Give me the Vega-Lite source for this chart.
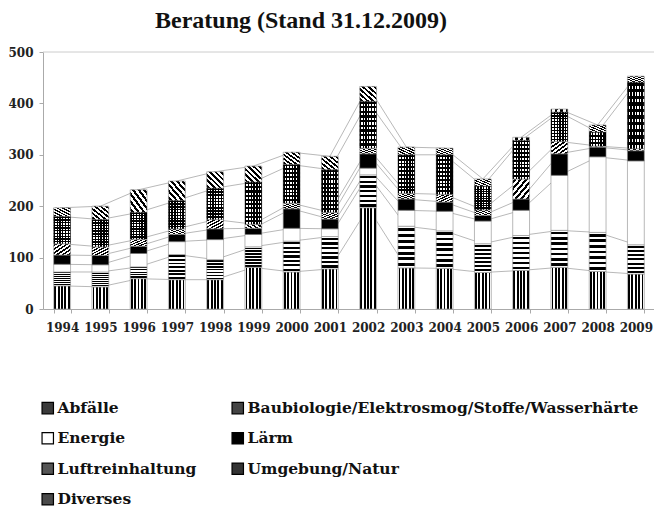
{
  "$schema": "https://vega.github.io/schema/vega-lite/v6.json",
  "autosize": {"type": "none"},
  "padding": {"left": 43, "top": 52, "right": 0, "bottom": 203},
  "width": 612,
  "height": 257,
  "background": "white",
  "title": {
    "text": "Beratung (Stand 31.12.2009)",
    "font": "Liberation Serif",
    "fontSize": 24,
    "fontWeight": "bold",
    "color": "#111",
    "anchor": "middle",
    "dx": -48,
    "offset": 13
  },
  "config": {
    "view": {"stroke": null},
    "axis": {"labelFont": "DejaVu Serif", "labelFontWeight": "bold", "labelFontSize": 12, "labelColor": "#222", "domainColor": "#aaa", "tickColor": "#aaa", "grid": false, "title": null}
  },
  "data": {
    "values": [
      {"year": "1994", "cat": "Abfälle", "value": 45},
      {"year": "1994", "cat": "Baubiologie/Elektrosmog/Stoffe/Wasserhärte", "value": 27},
      {"year": "1994", "cat": "Energie", "value": 15},
      {"year": "1994", "cat": "Lärm", "value": 18},
      {"year": "1994", "cat": "Luftreinhaltung", "value": 22},
      {"year": "1994", "cat": "Umgebung/Natur", "value": 53},
      {"year": "1994", "cat": "Diverses", "value": 17},
      {"year": "1995", "cat": "Abfälle", "value": 43},
      {"year": "1995", "cat": "Baubiologie/Elektrosmog/Stoffe/Wasserhärte", "value": 29},
      {"year": "1995", "cat": "Energie", "value": 14},
      {"year": "1995", "cat": "Lärm", "value": 18},
      {"year": "1995", "cat": "Luftreinhaltung", "value": 17},
      {"year": "1995", "cat": "Umgebung/Natur", "value": 53},
      {"year": "1995", "cat": "Diverses", "value": 26},
      {"year": "1996", "cat": "Abfälle", "value": 59},
      {"year": "1996", "cat": "Baubiologie/Elektrosmog/Stoffe/Wasserhärte", "value": 23},
      {"year": "1996", "cat": "Energie", "value": 26},
      {"year": "1996", "cat": "Lärm", "value": 14},
      {"year": "1996", "cat": "Luftreinhaltung", "value": 14},
      {"year": "1996", "cat": "Umgebung/Natur", "value": 52},
      {"year": "1996", "cat": "Diverses", "value": 44},
      {"year": "1997", "cat": "Abfälle", "value": 57},
      {"year": "1997", "cat": "Baubiologie/Elektrosmog/Stoffe/Wasserhärte", "value": 49},
      {"year": "1997", "cat": "Energie", "value": 25},
      {"year": "1997", "cat": "Lärm", "value": 14},
      {"year": "1997", "cat": "Luftreinhaltung", "value": 11},
      {"year": "1997", "cat": "Umgebung/Natur", "value": 55},
      {"year": "1997", "cat": "Diverses", "value": 38},
      {"year": "1998", "cat": "Abfälle", "value": 57},
      {"year": "1998", "cat": "Baubiologie/Elektrosmog/Stoffe/Wasserhärte", "value": 39},
      {"year": "1998", "cat": "Energie", "value": 39},
      {"year": "1998", "cat": "Lärm", "value": 21},
      {"year": "1998", "cat": "Luftreinhaltung", "value": 18},
      {"year": "1998", "cat": "Umgebung/Natur", "value": 61},
      {"year": "1998", "cat": "Diverses", "value": 32},
      {"year": "1999", "cat": "Abfälle", "value": 81},
      {"year": "1999", "cat": "Baubiologie/Elektrosmog/Stoffe/Wasserhärte", "value": 40},
      {"year": "1999", "cat": "Energie", "value": 24},
      {"year": "1999", "cat": "Lärm", "value": 12},
      {"year": "1999", "cat": "Luftreinhaltung", "value": 8},
      {"year": "1999", "cat": "Umgebung/Natur", "value": 82},
      {"year": "1999", "cat": "Diverses", "value": 31},
      {"year": "2000", "cat": "Abfälle", "value": 72},
      {"year": "2000", "cat": "Baubiologie/Elektrosmog/Stoffe/Wasserhärte", "value": 60},
      {"year": "2000", "cat": "Energie", "value": 25},
      {"year": "2000", "cat": "Lärm", "value": 38},
      {"year": "2000", "cat": "Luftreinhaltung", "value": 11},
      {"year": "2000", "cat": "Umgebung/Natur", "value": 75},
      {"year": "2000", "cat": "Diverses", "value": 24},
      {"year": "2001", "cat": "Abfälle", "value": 78},
      {"year": "2001", "cat": "Baubiologie/Elektrosmog/Stoffe/Wasserhärte", "value": 63},
      {"year": "2001", "cat": "Energie", "value": 15},
      {"year": "2001", "cat": "Lärm", "value": 19},
      {"year": "2001", "cat": "Luftreinhaltung", "value": 13},
      {"year": "2001", "cat": "Umgebung/Natur", "value": 83},
      {"year": "2001", "cat": "Diverses", "value": 26},
      {"year": "2002", "cat": "Abfälle", "value": 197},
      {"year": "2002", "cat": "Baubiologie/Elektrosmog/Stoffe/Wasserhärte", "value": 64},
      {"year": "2002", "cat": "Energie", "value": 13},
      {"year": "2002", "cat": "Lärm", "value": 28},
      {"year": "2002", "cat": "Luftreinhaltung", "value": 11},
      {"year": "2002", "cat": "Umgebung/Natur", "value": 91},
      {"year": "2002", "cat": "Diverses", "value": 29},
      {"year": "2003", "cat": "Abfälle", "value": 80},
      {"year": "2003", "cat": "Baubiologie/Elektrosmog/Stoffe/Wasserhärte", "value": 81},
      {"year": "2003", "cat": "Energie", "value": 31},
      {"year": "2003", "cat": "Lärm", "value": 22},
      {"year": "2003", "cat": "Luftreinhaltung", "value": 11},
      {"year": "2003", "cat": "Umgebung/Natur", "value": 75},
      {"year": "2003", "cat": "Diverses", "value": 15},
      {"year": "2004", "cat": "Abfälle", "value": 79},
      {"year": "2004", "cat": "Baubiologie/Elektrosmog/Stoffe/Wasserhärte", "value": 73},
      {"year": "2004", "cat": "Energie", "value": 38},
      {"year": "2004", "cat": "Lärm", "value": 18},
      {"year": "2004", "cat": "Luftreinhaltung", "value": 15},
      {"year": "2004", "cat": "Umgebung/Natur", "value": 77},
      {"year": "2004", "cat": "Diverses", "value": 13},
      {"year": "2005", "cat": "Abfälle", "value": 71},
      {"year": "2005", "cat": "Baubiologie/Elektrosmog/Stoffe/Wasserhärte", "value": 56},
      {"year": "2005", "cat": "Energie", "value": 44},
      {"year": "2005", "cat": "Lärm", "value": 11},
      {"year": "2005", "cat": "Luftreinhaltung", "value": 11},
      {"year": "2005", "cat": "Umgebung/Natur", "value": 46},
      {"year": "2005", "cat": "Diverses", "value": 14},
      {"year": "2006", "cat": "Abfälle", "value": 75},
      {"year": "2006", "cat": "Baubiologie/Elektrosmog/Stoffe/Wasserhärte", "value": 68},
      {"year": "2006", "cat": "Energie", "value": 49},
      {"year": "2006", "cat": "Lärm", "value": 22},
      {"year": "2006", "cat": "Luftreinhaltung", "value": 39},
      {"year": "2006", "cat": "Umgebung/Natur", "value": 75},
      {"year": "2006", "cat": "Diverses", "value": 6},
      {"year": "2007", "cat": "Abfälle", "value": 81},
      {"year": "2007", "cat": "Baubiologie/Elektrosmog/Stoffe/Wasserhärte", "value": 72},
      {"year": "2007", "cat": "Energie", "value": 107},
      {"year": "2007", "cat": "Lärm", "value": 42},
      {"year": "2007", "cat": "Luftreinhaltung", "value": 24},
      {"year": "2007", "cat": "Umgebung/Natur", "value": 57},
      {"year": "2007", "cat": "Diverses", "value": 6},
      {"year": "2008", "cat": "Abfälle", "value": 73},
      {"year": "2008", "cat": "Baubiologie/Elektrosmog/Stoffe/Wasserhärte", "value": 76},
      {"year": "2008", "cat": "Energie", "value": 147},
      {"year": "2008", "cat": "Lärm", "value": 19},
      {"year": "2008", "cat": "Luftreinhaltung", "value": 2},
      {"year": "2008", "cat": "Umgebung/Natur", "value": 27},
      {"year": "2008", "cat": "Diverses", "value": 14},
      {"year": "2009", "cat": "Abfälle", "value": 68},
      {"year": "2009", "cat": "Baubiologie/Elektrosmog/Stoffe/Wasserhärte", "value": 57},
      {"year": "2009", "cat": "Energie", "value": 163},
      {"year": "2009", "cat": "Lärm", "value": 20},
      {"year": "2009", "cat": "Luftreinhaltung", "value": 4},
      {"year": "2009", "cat": "Umgebung/Natur", "value": 129},
      {"year": "2009", "cat": "Diverses", "value": 12}
    ]
  },
  "transform": [
    {"calculate": "indexof(['Abfälle','Baubiologie/Elektrosmog/Stoffe/Wasserhärte','Energie','Lärm','Luftreinhaltung','Umgebung/Natur','Diverses'], datum.cat)", "as": "ord"},
    {"stack": "value", "groupby": ["year"], "sort": [{"field": "ord", "order": "ascending"}], "as": ["v0", "v1"]}
  ],
  "layer": [
    {
      "mark": {"type": "line", "stroke": "#b0b0b0", "strokeWidth": 0.9},
      "encoding": {
        "x": {
          "field": "year", "type": "ordinal",
          "scale": {"paddingInner": 0.56, "paddingOuter": 0.28},
          "axis": {"labelAngle": 0, "tickBand": "extent", "tickSize": 4, "labelPadding": 9}
        },
        "y": {"field": "v1", "type": "quantitative", "scale": {"domain": [0, 500], "nice": false},
          "axis": {"values": [0, 50, 100, 150, 200, 250, 300, 350, 400, 450, 500], "tickSize": 4, "labelPadding": 6}},
        "detail": {"field": "cat"}
      }
    },
    {
      "transform": [{"filter": "datum.ord === 0 && datum.year === '1994'"}],
      "mark": {"type": "rule", "stroke": "#cccccc", "strokeWidth": 1},
      "encoding": {"y": {"datum": 500}}
    },
    {
      "mark": {"type": "bar", "stroke": "#8a8a8a", "strokeWidth": 0.6},
      "encoding": {
        "x": {"field": "year", "type": "ordinal"},
        "y": {"field": "v1", "type": "quantitative"},
        "y2": {"field": "v0"},
        "fill": {
          "field": "cat", "type": "nominal",
          "sort": ["Abfälle", "Baubiologie/Elektrosmog/Stoffe/Wasserhärte", "Energie", "Lärm", "Luftreinhaltung", "Umgebung/Natur", "Diverses"],
          "scale": {
            "domain": ["Abfälle", "Baubiologie/Elektrosmog/Stoffe/Wasserhärte", "Energie", "Lärm", "Luftreinhaltung", "Umgebung/Natur", "Diverses"],
            "range": ["#3a3a3a", "#444444", "#ffffff", "#000000", "#555555", "#333333", "#4a4a4a"]
          },
          "legend": {
            "title": null, "orient": "none", "legendX": -3, "legendY": 348,
            "direction": "horizontal",
            "columns": 2, "columnPadding": 32, "rowPadding": 12.5,
            "symbolType": "square", "symbolSize": 130, "symbolStrokeColor": "#000", "symbolStrokeWidth": 1.2,
            "labelFont": "DejaVu Serif", "labelFontWeight": "bold", "labelFontSize": 15.5, "labelColor": "#111",
            "labelOffset": 2, "labelLimit": 500
          },
          "condition": [
            {"test": "datum.cat === 'Abfälle'", "value": {"gradient": "linear", "x1": 0, "y1": 0, "x2": 1, "y2": 0, "stops": [
              {"offset": 0, "color": "white"}, {"offset": 0.04, "color": "white"}, {"offset": 0.04, "color": "black"}, {"offset": 0.15, "color": "black"}, {"offset": 0.15, "color": "white"},
              {"offset": 0.24, "color": "white"}, {"offset": 0.24, "color": "black"}, {"offset": 0.35, "color": "black"}, {"offset": 0.35, "color": "white"},
              {"offset": 0.44, "color": "white"}, {"offset": 0.44, "color": "black"}, {"offset": 0.55, "color": "black"}, {"offset": 0.55, "color": "white"},
              {"offset": 0.64, "color": "white"}, {"offset": 0.64, "color": "black"}, {"offset": 0.75, "color": "black"}, {"offset": 0.75, "color": "white"},
              {"offset": 0.84, "color": "white"}, {"offset": 0.84, "color": "black"}, {"offset": 0.95, "color": "black"}, {"offset": 0.95, "color": "white"}, {"offset": 1, "color": "white"}
            ]}},
            {"test": "datum.cat === 'Baubiologie/Elektrosmog/Stoffe/Wasserhärte'", "value": {"gradient": "linear", "x1": 0, "y1": 0, "x2": 0, "y2": 1, "stops": [
              {"offset": 0, "color": "white"}, {"offset": 0.036, "color": "white"}, {"offset": 0.036, "color": "black"}, {"offset": 0.107, "color": "black"}, {"offset": 0.107, "color": "white"},
              {"offset": 0.179, "color": "white"}, {"offset": 0.179, "color": "black"}, {"offset": 0.25, "color": "black"}, {"offset": 0.25, "color": "white"},
              {"offset": 0.321, "color": "white"}, {"offset": 0.321, "color": "black"}, {"offset": 0.393, "color": "black"}, {"offset": 0.393, "color": "white"},
              {"offset": 0.464, "color": "white"}, {"offset": 0.464, "color": "black"}, {"offset": 0.536, "color": "black"}, {"offset": 0.536, "color": "white"},
              {"offset": 0.607, "color": "white"}, {"offset": 0.607, "color": "black"}, {"offset": 0.679, "color": "black"}, {"offset": 0.679, "color": "white"},
              {"offset": 0.75, "color": "white"}, {"offset": 0.75, "color": "black"}, {"offset": 0.821, "color": "black"}, {"offset": 0.821, "color": "white"},
              {"offset": 0.893, "color": "white"}, {"offset": 0.893, "color": "black"}, {"offset": 0.964, "color": "black"}, {"offset": 0.964, "color": "white"}, {"offset": 1, "color": "white"}
            ]}},
            {"test": "datum.cat === 'Luftreinhaltung'", "value": {"gradient": "linear", "x1": 0, "y1": 0, "x2": 1, "y2": 1, "stops": [
              {"offset": 0, "color": "white"}, {"offset": 0.043, "color": "white"}, {"offset": 0.043, "color": "black"}, {"offset": 0.123, "color": "black"}, {"offset": 0.123, "color": "white"},
              {"offset": 0.21, "color": "white"}, {"offset": 0.21, "color": "black"}, {"offset": 0.29, "color": "black"}, {"offset": 0.29, "color": "white"},
              {"offset": 0.377, "color": "white"}, {"offset": 0.377, "color": "black"}, {"offset": 0.457, "color": "black"}, {"offset": 0.457, "color": "white"},
              {"offset": 0.543, "color": "white"}, {"offset": 0.543, "color": "black"}, {"offset": 0.623, "color": "black"}, {"offset": 0.623, "color": "white"},
              {"offset": 0.71, "color": "white"}, {"offset": 0.71, "color": "black"}, {"offset": 0.79, "color": "black"}, {"offset": 0.79, "color": "white"},
              {"offset": 0.877, "color": "white"}, {"offset": 0.877, "color": "black"}, {"offset": 0.957, "color": "black"}, {"offset": 0.957, "color": "white"}, {"offset": 1, "color": "white"}
            ]}},
            {"test": "datum.cat === 'Diverses'", "value": {"gradient": "linear", "x1": 1, "y1": 0, "x2": 0, "y2": 1, "stops": [
              {"offset": 0, "color": "white"}, {"offset": 0.043, "color": "white"}, {"offset": 0.043, "color": "black"}, {"offset": 0.123, "color": "black"}, {"offset": 0.123, "color": "white"},
              {"offset": 0.21, "color": "white"}, {"offset": 0.21, "color": "black"}, {"offset": 0.29, "color": "black"}, {"offset": 0.29, "color": "white"},
              {"offset": 0.377, "color": "white"}, {"offset": 0.377, "color": "black"}, {"offset": 0.457, "color": "black"}, {"offset": 0.457, "color": "white"},
              {"offset": 0.543, "color": "white"}, {"offset": 0.543, "color": "black"}, {"offset": 0.623, "color": "black"}, {"offset": 0.623, "color": "white"},
              {"offset": 0.71, "color": "white"}, {"offset": 0.71, "color": "black"}, {"offset": 0.79, "color": "black"}, {"offset": 0.79, "color": "white"},
              {"offset": 0.877, "color": "white"}, {"offset": 0.877, "color": "black"}, {"offset": 0.957, "color": "black"}, {"offset": 0.957, "color": "white"}, {"offset": 1, "color": "white"}
            ]}},
            {"test": "datum.cat === 'Umgebung/Natur'", "value": {"gradient": "linear", "x1": 0, "y1": 0, "x2": 0, "y2": 1, "stops": [
              {"offset": 0, "color": "black"}, {"offset": 0.05, "color": "black"}, {"offset": 0.05, "color": "white"},
              {"offset": 0.1, "color": "white"}, {"offset": 0.1, "color": "black"}, {"offset": 0.15, "color": "black"}, {"offset": 0.15, "color": "white"},
              {"offset": 0.2, "color": "white"}, {"offset": 0.2, "color": "black"}, {"offset": 0.25, "color": "black"}, {"offset": 0.25, "color": "white"},
              {"offset": 0.3, "color": "white"}, {"offset": 0.3, "color": "black"}, {"offset": 0.35, "color": "black"}, {"offset": 0.35, "color": "white"},
              {"offset": 0.4, "color": "white"}, {"offset": 0.4, "color": "black"}, {"offset": 0.45, "color": "black"}, {"offset": 0.45, "color": "white"},
              {"offset": 0.5, "color": "white"}, {"offset": 0.5, "color": "black"}, {"offset": 0.55, "color": "black"}, {"offset": 0.55, "color": "white"},
              {"offset": 0.6, "color": "white"}, {"offset": 0.6, "color": "black"}, {"offset": 0.65, "color": "black"}, {"offset": 0.65, "color": "white"},
              {"offset": 0.7, "color": "white"}, {"offset": 0.7, "color": "black"}, {"offset": 0.75, "color": "black"}, {"offset": 0.75, "color": "white"},
              {"offset": 0.8, "color": "white"}, {"offset": 0.8, "color": "black"}, {"offset": 0.85, "color": "black"}, {"offset": 0.85, "color": "white"},
              {"offset": 0.9, "color": "white"}, {"offset": 0.9, "color": "black"}, {"offset": 0.95, "color": "black"}, {"offset": 0.95, "color": "white"}, {"offset": 1, "color": "white"}
            ]}}
          ]
        }
      }
    },
    {
      "mark": {"type": "bar", "strokeWidth": 0},
      "encoding": {
        "x": {"field": "year", "type": "ordinal"},
        "y": {"field": "v1", "type": "quantitative"},
        "y2": {"field": "v0"},
        "fill": {
          "condition": {"test": "datum.cat === 'Umgebung/Natur'", "value": {"gradient": "linear", "x1": 0, "y1": 0, "x2": 1, "y2": 0, "stops": [
            {"offset": 0, "color": "black"}, {"offset": 0.08, "color": "black"}, {"offset": 0.08, "color": "rgba(0,0,0,0)"},
            {"offset": 0.17, "color": "rgba(0,0,0,0)"}, {"offset": 0.17, "color": "black"}, {"offset": 0.25, "color": "black"}, {"offset": 0.25, "color": "rgba(0,0,0,0)"},
            {"offset": 0.33, "color": "rgba(0,0,0,0)"}, {"offset": 0.33, "color": "black"}, {"offset": 0.42, "color": "black"}, {"offset": 0.42, "color": "rgba(0,0,0,0)"},
            {"offset": 0.5, "color": "rgba(0,0,0,0)"}, {"offset": 0.5, "color": "black"}, {"offset": 0.58, "color": "black"}, {"offset": 0.58, "color": "rgba(0,0,0,0)"},
            {"offset": 0.67, "color": "rgba(0,0,0,0)"}, {"offset": 0.67, "color": "black"}, {"offset": 0.75, "color": "black"}, {"offset": 0.75, "color": "rgba(0,0,0,0)"},
            {"offset": 0.83, "color": "rgba(0,0,0,0)"}, {"offset": 0.83, "color": "black"}, {"offset": 0.92, "color": "black"}, {"offset": 0.92, "color": "rgba(0,0,0,0)"},
            {"offset": 0.96, "color": "rgba(0,0,0,0)"}, {"offset": 0.96, "color": "black"}, {"offset": 1, "color": "black"}
          ]}},
          "value": "transparent"
        }
      }
    }
  ]
}
